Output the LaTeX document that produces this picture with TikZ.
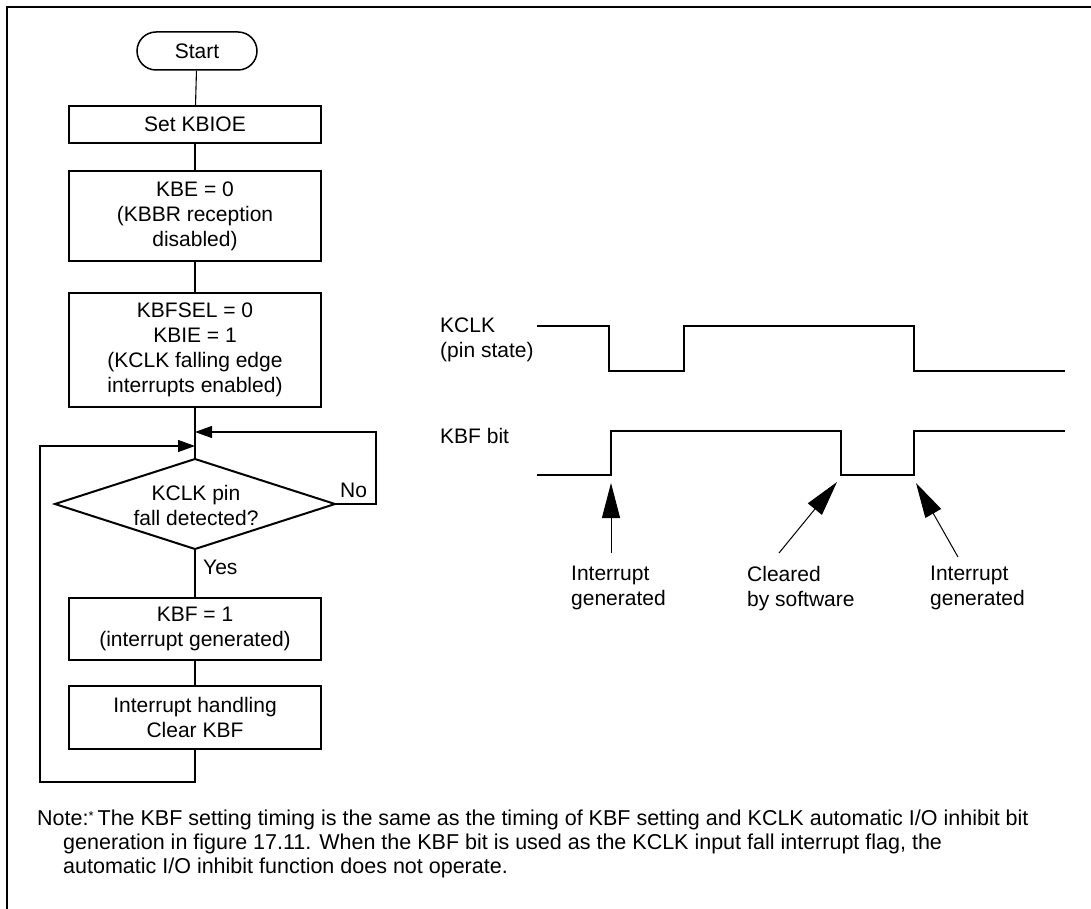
\documentclass[tikz,border=0pt]{standalone}
\usepackage{fontspec}
\setmainfont{Liberation Sans}
\usetikzlibrary{arrows.meta,shapes.misc}
\begin{document}
\begin{tikzpicture}[x=1pt,y=-1pt,
  font=\fontsize{21}{25}\selectfont,
  flowbox/.style={draw,line width=2.2pt,minimum width=252pt,align=center,inner sep=0pt},
  term/.style={draw,rounded rectangle,line width=1.5pt,minimum width=120pt,minimum height=38pt,inner sep=0pt},
  conn/.style={line width=1.1pt},
  fhead/.style={-{Triangle[length=17pt,width=12pt]}},
  thead/.style={-{Triangle[length=35pt,width=18pt]}},
  wave/.style={line width=2.5pt,line join=miter},
  lbl/.style={align=left,inner sep=0pt},
  notetext/.style={anchor=base west,inner sep=0pt,font=\fontsize{21.5}{24}\selectfont}
]
\useasboundingbox (0,0) rectangle (1091,909);
% frame
\draw[line width=2.2pt] (7,912) -- (7,7) -- (1094,7);

% flowchart nodes
\node[term] (start) at (197,51) {Start};
\node[flowbox,minimum height=37pt] (set) at (195,124.5) {Set KBIOE};
\node[flowbox,minimum height=90pt] (kbe) at (195,216) {KBE = 0\\(KBBR reception\\disabled)};
\node[flowbox,minimum height=114pt] (kbfsel) at (195,350) {KBFSEL = 0\\KBIE = 1\\(KCLK falling edge\\interrupts enabled)};
\coordinate (dT) at (195,459);
\coordinate (dL) at (55,504);
\coordinate (dR) at (335,504);
\coordinate (dB) at (195,549);
\draw[line width=2pt,line join=miter] (dT) -- (dR) -- (dB) -- (dL) -- cycle;
\node[align=center,inner sep=0pt] (dtext) at (196,505) {KCLK pin\\fall detected?};
\node[flowbox,minimum height=62pt] (kbf) at (195,629) {KBF = 1\\(interrupt generated)};
\node[flowbox,minimum height=63pt] (ih) at (195,717.5) {Interrupt handling\\Clear KBF};

\coordinate (j1) at (195,432);
\coordinate (j2) at (195,446);
\coordinate (rc) at (376,504);
\coordinate (lc) at (40,782);

\draw[conn] (start) -- (set);
\draw[conn] (set) -- (kbe);
\draw[conn] (kbe) -- (kbfsel);
\draw[conn] (kbfsel.south) -- (dT);
\draw[conn,fhead] (dR) -- (rc) |- (j1);
\draw[conn] (dB) -- (kbf.north);
\draw[conn] (kbf) -- (ih);
\draw[conn,fhead] (ih.south) |- (lc) |- (j2);
\node[lbl,anchor=west] (no) at (340,490) {No};
\node[lbl,anchor=west] (yes) at (203,567) {Yes};

% timing labels
\node[lbl,anchor=north west] (kclk) at (440,318) {KCLK\\(pin state)};
\node[lbl,anchor=west] (kbfbit) at (440,436) {KBF bit};

% waveforms
\draw[wave] (537,326) -- (609,326) -- (609,371) -- (684,371) -- (684,326) -- (914,326) -- (914,371) -- (1065,371);
\draw[wave] (537,475) -- (611,475) -- (611,431) -- (841,431) -- (841,475) -- (914,475) -- (914,431) -- (1065,431);

% pointers
\coordinate (a1s) at (611,553); \coordinate (a1e) at (611,483);
\coordinate (a2s) at (779,553); \coordinate (a2e) at (837,482);
\coordinate (a3s) at (958,557); \coordinate (a3e) at (916,483);
\draw[line width=1pt,thead] (a1s) -- (a1e);
\draw[line width=1pt,thead] (a2s) -- (a2e);
\draw[line width=1pt,thead] (a3s) -- (a3e);
\node[lbl,anchor=north west] (l1) at (571,566) {Interrupt\\generated};
\node[lbl,anchor=north west] (l2) at (747,566) {Cleared\\by software};
\node[lbl,anchor=north west] (l3) at (930,566) {Interrupt\\generated};

% note
\node[notetext] (n1) at (37,825) {Note:{\fontsize{13}{13}\selectfont\raisebox{5pt}{*}}\hspace{4pt}The KBF setting timing is the same as the timing of KBF setting and KCLK automatic I/O inhibit bit};
\node[notetext] (n2) at (63,849) {generation in figure 17.11. When the KBF bit is used as the KCLK input fall interrupt flag, the};
\node[notetext] (n3) at (63,873) {automatic I/O inhibit function does not operate.};
\end{tikzpicture}
\end{document}
